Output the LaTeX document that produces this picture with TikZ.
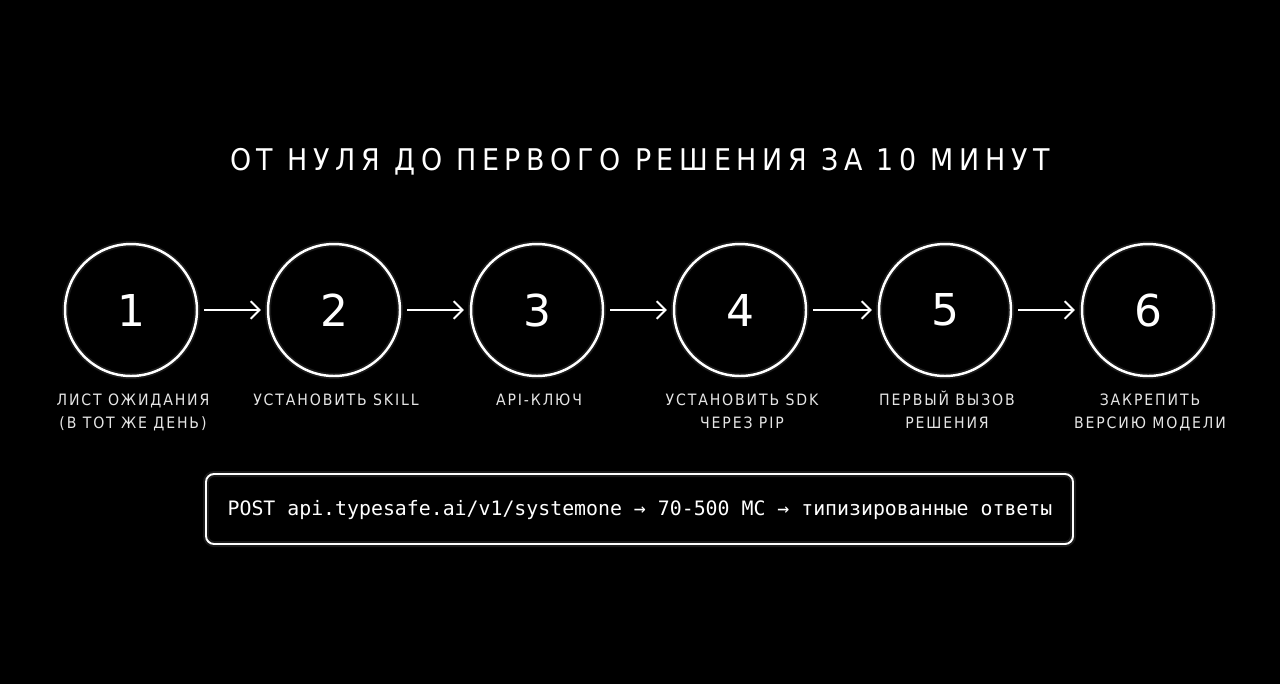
\documentclass[tikz,border=0pt]{standalone}
\usepackage{fontspec}
\setmainfont{DejaVu Sans}
\newfontfamily\titlefont[LetterSpace=19]{DejaVu Sans Condensed}
\newfontfamily\labelfont[LetterSpace=12]{DejaVu Sans Condensed}
\newfontfamily\numfont{DejaVu Sans}
\newfontfamily\codefont{DejaVu Sans Mono}
\usetikzlibrary{arrows.meta}
\usetikzlibrary{positioning}
\definecolor{bgdark}{rgb}{0.0, 0.0, 0.0}
\definecolor{lgray}{rgb}{0.9, 0.9, 0.9}
\newcommand{\lstrut}{\rule{0pt}{10pt}}
\tikzset{glow/.style = {preaction = {draw = white, opacity = 0.1, line width = 3.4pt}}}
\tikzset{stepcirc/.style = {draw = white, line width = 1.4pt, circle, minimum size = 2.64cm, glow,
                            inner sep = 0, text = white, font = \numfont\fontsize{25}{30}\selectfont}}
\tikzset{steplabel/.style = {text = lgray, align = center, anchor = north, inner sep = 0,
                             font = \labelfont\fontsize{8.9}{13}\selectfont}}
\tikzset{flow/.style = {draw = white, line width = 1.1pt, -{Straight Barb[length=5pt, width=10pt]},
                        shorten < = 0.12cm, shorten > = 0.12cm}}

\begin{document}
\begin{tikzpicture}[x = 0.02cm, y = -0.02cm]
    \fill [bgdark] (0, 0) rectangle (1280, 684);

    \node [text = white, font = \titlefont\fontsize{17}{20}\selectfont] (title) at (640, 162)
        {ОТ НУЛЯ ДО ПЕРВОГО РЕШЕНИЯ ЗА 10 МИНУТ};

    \node [stepcirc] (s1) at (131, 310) {1};
    \node [stepcirc] (s2) at (334, 310) {2};
    \node [stepcirc] (s3) at (537, 310) {3};
    \node [stepcirc] (s4) at (740, 310) {4};
    \node [stepcirc] (s5) at (945, 310) {5};
    \node [stepcirc] (s6) at (1148, 310) {6};

    \draw [flow] (s1) -- (s2);
    \draw [flow] (s2) -- (s3);
    \draw [flow] (s3) -- (s4);
    \draw [flow] (s4) -- (s5);
    \draw [flow] (s5) -- (s6);

    \node [steplabel] (l1) at (133, 388) {\lstrut ЛИСТ ОЖИДАНИЯ\\(В ТОТ ЖЕ ДЕНЬ)};
    \node [steplabel] (l2) at (336, 388) {\lstrut УСТАНОВИТЬ SKILL};
    \node [steplabel] (l3) at (539, 388) {\lstrut API-КЛЮЧ};
    \node [steplabel] (l4) at (742, 388) {\lstrut УСТАНОВИТЬ SDK\\ЧЕРЕЗ PIP};
    \node [steplabel] (l5) at (947, 388) {\lstrut ПЕРВЫЙ ВЫЗОВ\\РЕШЕНИЯ};
    \node [steplabel] (l6) at (1150, 388) {\lstrut ЗАКРЕПИТЬ\\ВЕРСИЮ МОДЕЛИ};

    \draw [white, line width = 1.1pt, glow, rounded corners = 0.16cm] (206, 474) rectangle (1073, 544);
    \node [text = white, font = \codefont\fontsize{11.3}{13}\selectfont] (api) at (640, 510)
        {POST api.typesafe.ai/v1/systemone → 70-500 МС → типизированные ответы};
\end{tikzpicture}
\end{document}
